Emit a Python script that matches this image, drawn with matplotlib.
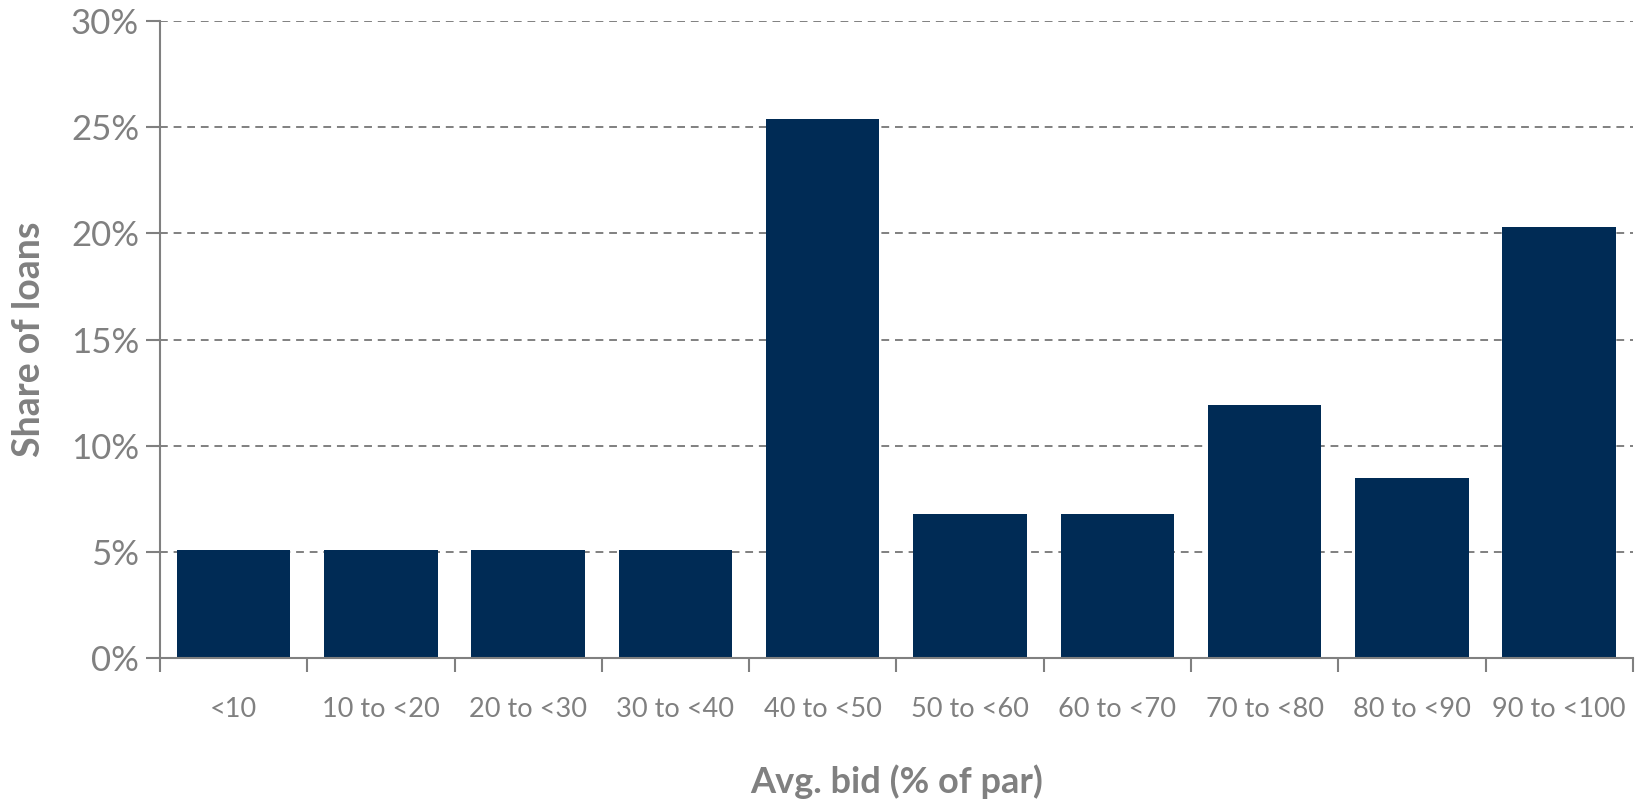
import matplotlib
matplotlib.use("Agg")
import matplotlib.pyplot as plt
from matplotlib.ticker import FuncFormatter, MultipleLocator

categories = ["<10", "10 to <20", "20 to <30", "30 to <40", "40 to <50",
              "50 to <60", "60 to <70", "70 to <80", "80 to <90", "90 to <100"]
share_pct = [5.1, 5.1, 5.1, 5.1, 25.4, 6.8, 6.8, 11.9, 8.5, 20.3]

BAR = "#002B55"
GREY = "#808080"

plt.rcParams["font.family"] = ["Lato", "DejaVu Sans"]

fig = plt.figure(figsize=(16.42, 8.0), dpi=100)
ax = fig.add_axes([0.0974, 0.177, 0.897, 0.797])

x = range(len(categories))
ax.bar(x, share_pct, width=0.77, color=BAR, zorder=3)

ax.set_xlim(-0.5, len(categories) - 0.5)
ax.set_ylim(0, 30)
ax.yaxis.set_major_locator(MultipleLocator(5))
ax.yaxis.set_major_formatter(FuncFormatter(lambda v, _: f"{v:.0f}%"))

# boundary ticks between categories, labels centred under bars
ax.set_xticks([i + 0.5 for i in range(-1, len(categories))])
ax.set_xticklabels([])
ax.set_xticks(list(x), minor=True)
ax.set_xticklabels(categories, minor=True)
ax.tick_params(axis="x", which="minor", length=0, pad=28, labelsize=19.5, colors=GREY)
ax.tick_params(axis="x", which="major", length=10, width=1.5, color=GREY, direction="out")
ax.tick_params(axis="y", length=10, width=1.5, color=GREY, labelsize=25, labelcolor=GREY, pad=5)

ax.grid(axis="y", color=GREY, linestyle=(0, (4, 3)), linewidth=1.4, zorder=0)

for side in ("top", "right"):
    ax.spines[side].set_visible(False)
for side in ("left", "bottom"):
    ax.spines[side].set_color(GREY)
    ax.spines[side].set_linewidth(1.5)
    ax.spines[side].set_zorder(4)

ax.set_ylabel("Share of loans", fontsize=27, fontweight="bold", color=GREY, labelpad=18)
ax.set_xlabel("Avg. bid (% of par)", fontsize=26, fontweight="bold", color=GREY, labelpad=30)

fig.savefig("out.png", dpi=100, facecolor="white")
